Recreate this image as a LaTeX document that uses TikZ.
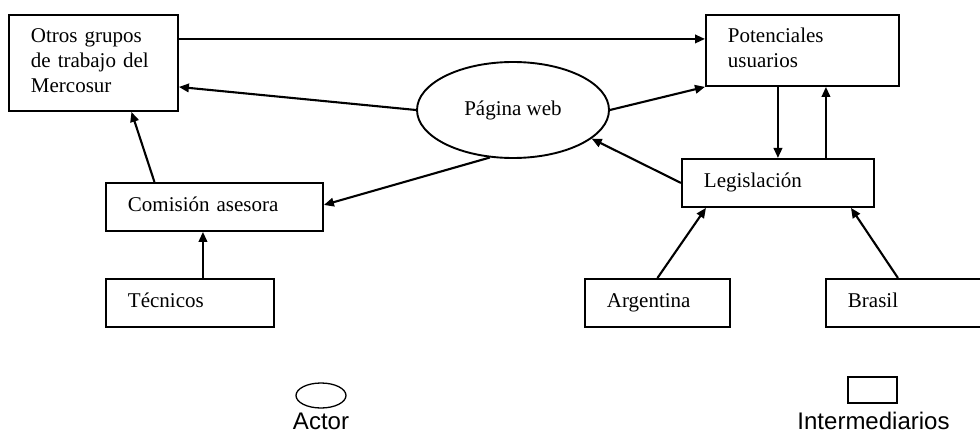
\documentclass[tikz,border=0pt]{standalone}
\usepackage{fontspec}
\setmainfont{Liberation Serif}
\setsansfont{Liberation Sans}
\usetikzlibrary{arrows.meta,shapes.geometric}

\begin{document}
\begin{tikzpicture}[x=1pt,y=-1pt,
  box/.style={draw, line width=1.9pt, inner xsep=22pt, inner ysep=3pt,
    align=left, font=\fontsize{21}{25}\selectfont,
    execute at begin node=\strut, execute at end node=\strut},
  actor/.style={draw, ellipse, line width=1.9pt, inner sep=0pt,
    minimum width=192pt, minimum height=96pt, font=\fontsize{21}{25}\selectfont},
  arr/.style={line width=2.1pt, -{Triangle[length=10pt,width=8.5pt]}},
  legend/.style={font=\sffamily\fontsize{24}{28}\selectfont, anchor=base, inner sep=0pt}]

\useasboundingbox (0,0) rectangle (980,433);

% intermediaries
\node[box, text width=125pt, minimum height=96pt, anchor=north west] (otros) at (8,14)
  {Otros grupos\\de trabajo del\\Mercosur};
\node[box, text width=149pt, minimum height=71pt, anchor=north west] (pot) at (705,14)
  {Potenciales\\usuarios};
\node[box, text width=148pt, minimum height=48pt, anchor=north west] (leg) at (681,158)
  {Legislación};
\node[box, text width=173pt, minimum height=48pt, anchor=north west] (com) at (105,182)
  {Comisión asesora};
\node[box, text width=124pt, minimum height=48pt, anchor=north west] (tec) at (105,278)
  {Técnicos};
\node[box, text width=101pt, minimum height=48pt, anchor=north west] (arg) at (584,278)
  {Argentina};
\node[box, text width=126pt, minimum height=48pt, anchor=north west] (bra) at (825,278)
  {Brasil};

% actor
\node[actor] (web) at (513,110) {Página web};

% connectors
\draw[arr] ([yshift=24pt]otros.east) -- ([yshift=24pt]otros.east -| pot.west);
\draw[arr] (web.west) -- ([yshift=-24pt]otros.east);
\draw[arr] ([xshift=-60pt]com.north) -- ([xshift=38pt]otros.south);
\draw[arr] (web.244) -- ([yshift=2pt]com.east);
\draw[arr] (web.east) -- (pot.south west);
\draw[arr] (leg.west) -- (web.-20);
\draw[arr] (leg.north |- pot.south) -- (leg.north);
\draw[arr] ([xshift=48pt]leg.north) -- ([xshift=48pt]leg.north |- pot.south);
\draw[arr] ([xshift=13pt]tec.north) -- ([xshift=13pt]tec.north |- com.south);
\draw[arr] (arg.north) -- ([xshift=-72pt]leg.south);
\draw[arr] ([xshift=-13pt]bra.north) -- ([xshift=73pt]leg.south);

% legend
\node[draw, ellipse, line width=1.3pt, inner sep=0pt, minimum width=50pt,
  minimum height=25pt] (lgact) at (321,395.5) {};
\node[legend] (lgacttxt) at (321,429) {Actor};
\node[draw, rectangle, line width=1.3pt, inner sep=0pt, minimum width=49pt,
  minimum height=26pt] (lgint) at (872.5,390) {};
\node[legend] (lginttxt) at (873.5,429) {Intermediarios};
\end{tikzpicture}
\end{document}
